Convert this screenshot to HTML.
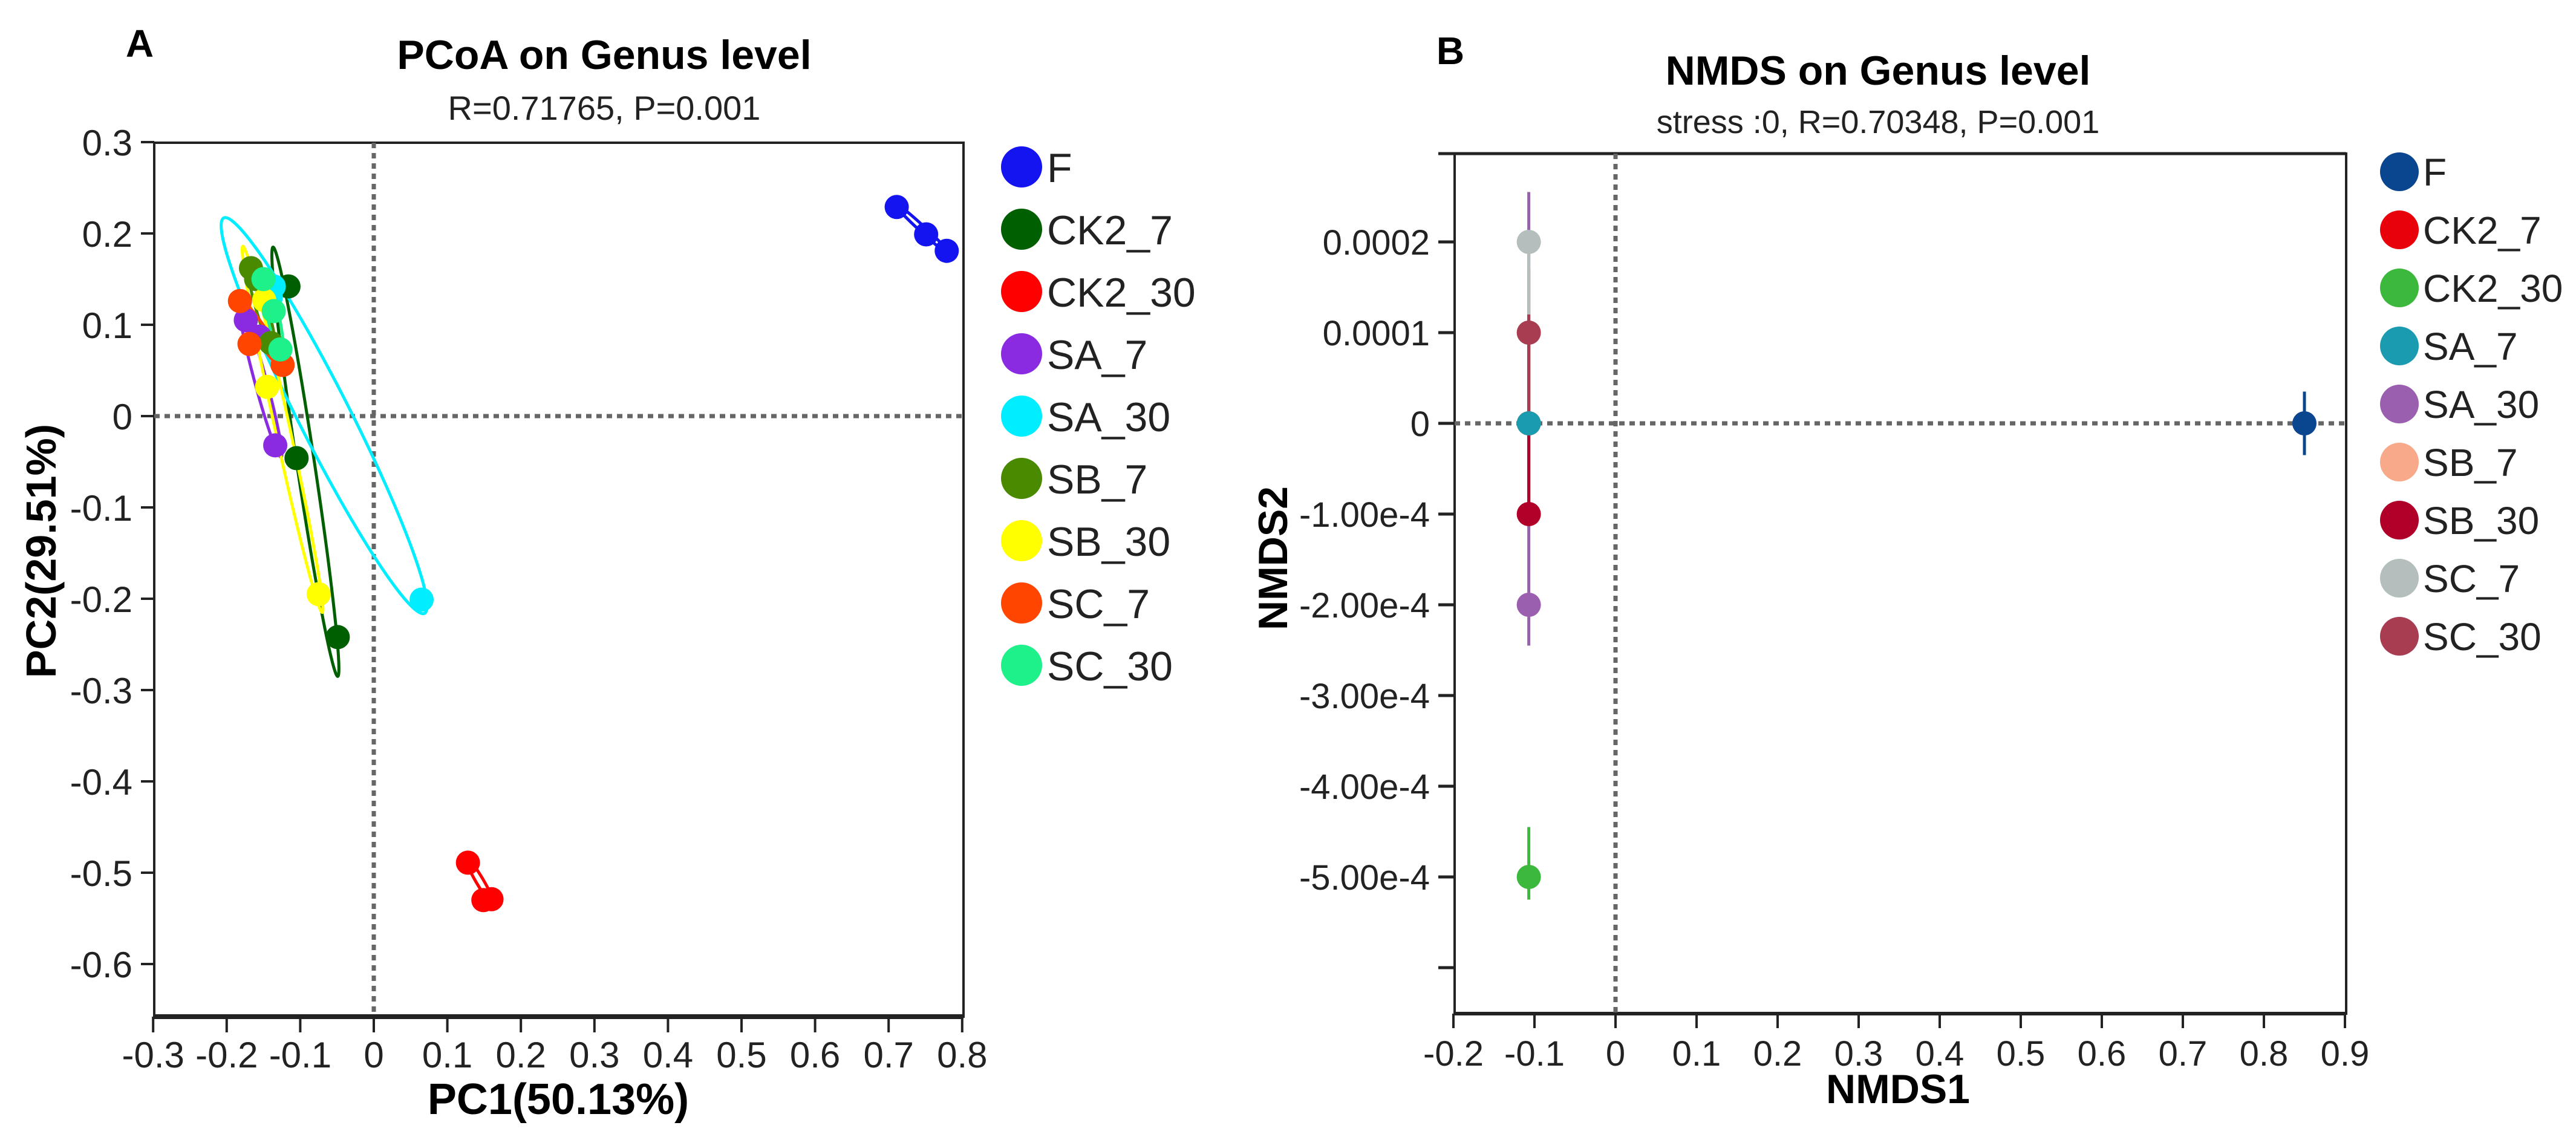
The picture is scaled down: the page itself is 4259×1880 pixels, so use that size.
<!DOCTYPE html>
<html><head><meta charset="utf-8"><style>
html,body{margin:0;padding:0;background:#fff}
svg{display:block;font-family:"Liberation Sans",Arial,sans-serif}
</style></head><body>
<svg id="fig" width="4259" height="1880" viewBox="0 0 4259 1880" xmlns="http://www.w3.org/2000/svg">
<g id="pA"></g>
<g id="pB"></g>
</svg>
<script>
// ---------- PCoA data ----------
const pcoaGroups = ["F","CK2_7","CK2_30","SA_7","SA_30","SB_7","SB_30","SC_7","SC_30"];
const pcoaColors = ["#1414f0","#005f00","#ff0000","#8a2be2","#00eeff","#4a8a00","#ffff00","#ff4500","#1ef08a"];
const pcoaX = [[0.711,0.751,0.779],[-0.116,-0.105,-0.049],[0.128,0.149,0.160],[-0.174,-0.155,-0.134],[-0.136,0.065,-0.140],[-0.167,-0.160,-0.140],[-0.149,-0.145,-0.075],[-0.182,-0.169,-0.124],[-0.136,-0.127,-0.150]];
const pcoaY = [[0.229,0.199,0.181],[0.142,-0.046,-0.242],[-0.489,-0.530,-0.529],[0.105,0.087,-0.032],[0.142,-0.201,0.130],[0.162,0.150,0.080],[0.127,0.032,-0.195],[0.126,0.079,0.056],[0.115,0.073,0.150]];
const ellX1 = [0.708,-0.137,0.125,-0.182,-0.204,-0.170,-0.178,-0.186,-0.150];
const ellY1 = [0.233,0.185,-0.483,0.122,0.217,0.168,0.186,0.130,0.160];
const ellX2 = [0.782,-0.049,0.163,-0.126,0.069,-0.135,-0.070,-0.120,-0.125];
const ellY2 = [0.178,-0.285,-0.535,-0.045,-0.216,0.070,-0.215,0.050,0.065];
const ellB  = [0.004,0.012,0.005,0.008,0.035,0.008,0.010,0.009,0.008];
const pcoaXTicks = [-0.3,-0.2,-0.1,0,0.1,0.2,0.3,0.4,0.5,0.6,0.7,0.8];
const pcoaYTicks = [0.3,0.2,0.1,0,-0.1,-0.2,-0.3,-0.4,-0.5,-0.6];

// ---------- NMDS data ----------
const nmdsGroups = ["F","CK2_7","CK2_30","SA_7","SA_30","SB_7","SB_30","SC_7","SC_30"];
const nmdsColors = ["#0a4690","#e8000b","#3cb83c","#1a9bb0","#9b5fb0","#f7a98a","#b0002a","#b4bfbd","#a83c50"];
const nmdsX = [0.850,-0.107,-0.107,-0.107,-0.107,-0.107,-0.107,-0.107,-0.107];
const nmdsY = [0,0,-5e-4,0,-2e-4,0,-1e-4,2e-4,1e-4];
const nmdsLo = [-0.35e-4,-1e-4,-5.25e-4,0,-2.45e-4,0,-1e-4,1.2e-4,0];
const nmdsHi = [0.35e-4,1.7e-4,-4.45e-4,0,2.55e-4,0,1e-4,2e-4,1.2e-4];
const nmdsDrawOrder = [0,1,2,5,4,6,7,8,3];
const nmdsXTicks = [-0.2,-0.1,0,0.1,0.2,0.3,0.4,0.5,0.6,0.7,0.8,0.9];
const nmdsYTicks = [2e-4,1e-4,0,-1e-4,-2e-4,-3e-4,-4e-4,-5e-4,-6e-4];
const nmdsYLabels = ["0.0002","0.0001","0","-1.00e-4","-2.00e-4","-3.00e-4","-4.00e-4","-5.00e-4",""];

const NS="http://www.w3.org/2000/svg";
function el(parent,tag,attrs,text){const e=document.createElementNS(NS,tag);for(const k in attrs)e.setAttribute(k,attrs[k]);if(text!==undefined)e.textContent=text;parent.appendChild(e);return e;}

// ---------- Panel A ----------
const A=document.getElementById('pA');
const ax=v=>618+v*1216, ay=v=>688-v*1510;
const aL=255,aR=1593,aT=236,aB=1681;
let t;
t=el(A,'text',{x:231,y:94,'font-size':64,'font-weight':'bold','text-anchor':'middle'},'A');

t=el(A,'text',{x:999,y:114,'font-size':68,'font-weight':'bold','text-anchor':'middle'},'PCoA on Genus level');

t=el(A,'text',{x:999,y:198,'font-size':56,'text-anchor':'middle',fill:'#222'},'R=0.71765, P=0.001');

t=el(A,'rect',{x:aL,y:aT,width:aR-aL,height:aB-aT,fill:'none',stroke:'#222','stroke-width':4});

t=el(A,'line',{x1:aL,y1:aB,x2:aR,y2:aB,stroke:'#222','stroke-width':8});

t=el(A,'line',{x1:ax(0),y1:aT,x2:ax(0),y2:aB,stroke:'#666','stroke-width':7,'stroke-dasharray':'9 8'});

t=el(A,'line',{x1:aL,y1:ay(0),x2:aR,y2:ay(0),stroke:'#666','stroke-width':7,'stroke-dasharray':'9 8'});

pcoaXTicks.forEach(v=>{
  const x=ax(v);
  t=el(A,'line',{x1:x,y1:aB,x2:x,y2:aB+26,stroke:'#222','stroke-width':4});
  
  t=el(A,'text',{x:x,y:1765,'font-size':60,'text-anchor':'middle',fill:'#222'},String(v));
  
});
pcoaYTicks.forEach(v=>{
  const y=ay(v);
  t=el(A,'line',{x1:aL-22,y1:y,x2:aL,y2:y,stroke:'#222','stroke-width':4});
  
  t=el(A,'text',{x:219,y:y+22,'font-size':60,'text-anchor':'end',fill:'#222'},String(v));
  
});
t=el(A,'text',{x:923,y:1842,'font-size':72,'font-weight':'bold','text-anchor':'middle'},'PC1(50.13%)');

t=el(A,'text',{x:92,y:911,'font-size':70,'font-weight':'bold','text-anchor':'middle',transform:'rotate(-90 92 911)'},'PC2(29.51%)');

pcoaGroups.forEach((g,i)=>{
  const x1=ax(ellX1[i]),y1=ay(ellY1[i]),x2=ax(ellX2[i]),y2=ay(ellY2[i]);
  const cx=(x1+x2)/2,cy=(y1+y2)/2,len=Math.hypot(x2-x1,y2-y1)/2,ang=Math.atan2(y2-y1,x2-x1)*180/Math.PI;
  const e=el(A,'ellipse',{cx:cx,cy:cy,rx:len,ry:Math.max(4,ellB[i]*1216),fill:'none',stroke:pcoaColors[i],'stroke-width':5,transform:`rotate(${ang} ${cx} ${cy})`});
  
  
});
pcoaGroups.forEach((g,i)=>{
  pcoaX[i].forEach((v,j)=>{
    const c=el(A,'circle',{cx:ax(v),cy:ay(pcoaY[i][j]),r:20,fill:pcoaColors[i]});
    
    
  });
});
pcoaGroups.forEach((g,i)=>{
  const y=276+i*103;
  const c=el(A,'circle',{cx:1689,cy:y,r:34,fill:pcoaColors[i]});
  
  
  const tx=el(A,'text',{x:1731,y:y+25,'font-size':68,fill:'#222'},g);
  
  
});

// ---------- Panel B ----------
const B=document.getElementById('pB');
const bx=v=>2671+v*1340, by=v=>700-v*1.5e6;
const bL=2405,bR=3879,bT=254,bB=1676;
t=el(B,'text',{x:2398,y:106,'font-size':64,'font-weight':'bold','text-anchor':'middle'},'B');

t=el(B,'text',{x:3105,y:140,'font-size':68,'font-weight':'bold','text-anchor':'middle'},'NMDS on Genus level');

t=el(B,'text',{x:3105,y:220,'font-size':54,'text-anchor':'middle',fill:'#222'},'stress :0, R=0.70348, P=0.001');

t=el(B,'rect',{x:bL,y:bT,width:bR-bL,height:bB-bT,fill:'none',stroke:'#222','stroke-width':4});

t=el(B,'line',{x1:2378,y1:bT,x2:bR,y2:bT,stroke:'#222','stroke-width':5});

t=el(B,'line',{x1:bL,y1:bB,x2:bR,y2:bB,stroke:'#222','stroke-width':6});

t=el(B,'line',{x1:bx(0),y1:bT,x2:bx(0),y2:bB,stroke:'#666','stroke-width':7,'stroke-dasharray':'9 8'});

t=el(B,'line',{x1:bL,y1:by(0),x2:bR,y2:by(0),stroke:'#666','stroke-width':7,'stroke-dasharray':'9 8'});

nmdsXTicks.forEach(v=>{
  const x=bx(v);
  t=el(B,'line',{x1:x,y1:bB,x2:x,y2:bB+24,stroke:'#222','stroke-width':4});
  
  t=el(B,'text',{x:x,y:1762,'font-size':58,'text-anchor':'middle',fill:'#222'},String(v));
  
});
nmdsYTicks.forEach((v,i)=>{
  const y=by(v);
  t=el(B,'line',{x1:bL-27,y1:y,x2:bL,y2:y,stroke:'#222','stroke-width':5});
  
  t=el(B,'text',{x:2364,y:y+21,'font-size':58,'text-anchor':'end',fill:'#222'},nmdsYLabels[i]);
  
});
t=el(B,'text',{x:3138,y:1824,'font-size':68,'font-weight':'bold','text-anchor':'middle'},'NMDS1');

t=el(B,'text',{x:2128,y:923,'font-size':68,'font-weight':'bold','text-anchor':'middle',transform:'rotate(-90 2128 923)'},'NMDS2');

nmdsGroups.forEach((g,i)=>{
  const l=el(B,'line',{x1:bx(nmdsX[i]),y1:by(nmdsHi[i]),x2:bx(nmdsX[i]),y2:by(nmdsLo[i]),stroke:nmdsColors[i],'stroke-width':5});
  
  
});
nmdsDrawOrder.forEach(i=>{
  const g=nmdsGroups[i];
  const c=el(B,'circle',{cx:bx(nmdsX[i]),cy:by(nmdsY[i]),r:20,fill:nmdsColors[i]});
  
  
});
nmdsGroups.forEach((g,i)=>{
  const y=284+i*96;
  const c=el(B,'circle',{cx:3967,cy:y,r:32,fill:nmdsColors[i]});
  
  
  const tx=el(B,'text',{x:4006,y:y+23,'font-size':64,fill:'#222'},g);
  
  
});
</script>
</body></html>
